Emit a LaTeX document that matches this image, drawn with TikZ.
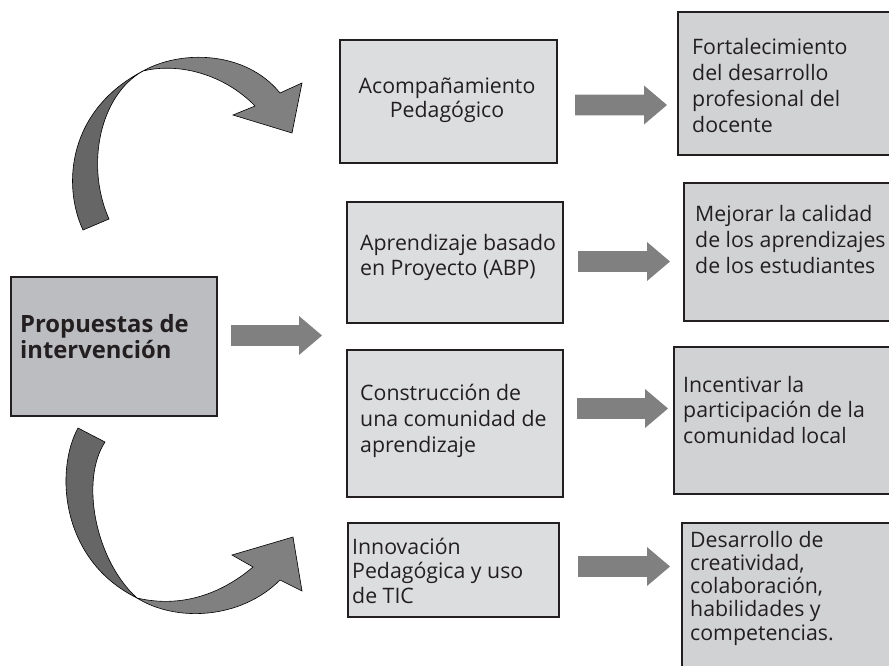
\documentclass[tikz,border=0pt]{standalone}
\usepackage{fontspec}
\setmainfont{Open Sans}
\usetikzlibrary{calc}
\definecolor{ink}{HTML}{231F20}
\definecolor{mainfill}{HTML}{BCBDC0}
\definecolor{leftfill}{HTML}{DCDDDF}
\definecolor{rightfill}{HTML}{D1D2D4}
\definecolor{arrowgray}{HTML}{808080}
\definecolor{ribbondark}{HTML}{666666}
\newcommand\linestext[4][21.3]{\parbox[t]{260pt}{#3\fontsize{#1}{#2}\selectfont #4}}
\newcommand\blockarrow[2]{\fill[arrowgray] let \p1=(#1),\p2=(#2) in
  (\x1,\y1+10.3pt) -- (\x2-23pt,\y1+10.3pt) -- (\x2-23pt,\y1+19.5pt) -- (\x2,\y1)
  -- (\x2-23pt,\y1-19.5pt) -- (\x2-23pt,\y1-10.3pt) -- (\x1,\y1-10.3pt) -- cycle;}
\tikzset{
  boxstyle/.style={draw=ink, line width=1.6pt, inner sep=0pt, anchor=north west},
  txt/.style={inner sep=0pt, text=ink, anchor=base west},
  ribbon/.style={draw=black, line width=0.6pt, line join=miter},
}
\begin{document}
\begin{tikzpicture}[x=1pt,y=-1pt]
\useasboundingbox (0,0) rectangle (889,665);
\clip (0,0) rectangle (889,665);
% main box
\node[boxstyle, fill=mainfill, minimum width=206pt, minimum height=139pt] (P) at (10,276) {};
\node[txt] (tP) at (20,332) {\linestext[23.8]{26.5}{\raggedright\bfseries}{Propuestas de\\intervención}};
% left column
\node[boxstyle, fill=leftfill, minimum width=217pt, minimum height=123pt] (A) at (339,39) {};
\node[boxstyle, fill=leftfill, minimum width=216pt, minimum height=121pt] (B) at (346,201) {};
\node[boxstyle, fill=leftfill, minimum width=216pt, minimum height=147pt] (C) at (346,349) {};
\node[boxstyle, fill=leftfill, minimum width=211pt, minimum height=94pt] (D) at (347,522) {};
% right column
\node[boxstyle, fill=rightfill, minimum width=230pt, minimum height=143pt] (F) at (677,11) {};
\node[boxstyle, fill=rightfill, minimum width=225pt, minimum height=138pt] (M) at (683,182) {};
\node[boxstyle, fill=rightfill, minimum width=235pt, minimum height=147pt] (I) at (673,346) {};
\node[boxstyle, fill=rightfill, minimum width=230pt, minimum height=180pt] (E) at (681,522) {};
% texts
\node[txt, anchor=base] (tA) at (447,93) {\linestext{24.5}{\centering}{Acompañamiento\\Pedagógico}};
\node[txt] (tB) at (360,250) {\linestext{25}{\raggedright}{Aprendizaje basado\\en Proyecto (ABP)}};
\node[txt] (tC) at (360,400) {\linestext{26}{\raggedright}{Construcción de\\una comunidad de\\aprendizaje}};
\node[txt] (tD) at (352,554) {\linestext{24.5}{\raggedright}{Innovación\\Pedagógica y uso\\de TIC}};
\node[txt] (tF) at (692,54) {\linestext{26}{\raggedright}{Fortalecimiento\\del desarrollo\\profesional del\\docente}};
\node[txt] (tM) at (695,221) {\linestext{26}{\raggedright}{Mejorar la calidad\\de los aprendizajes\\de los estudiantes}};
\node[txt] (tI) at (683,392) {\linestext{25.5}{\raggedright}{Incentivar la\\participación de la\\comunidad local}};
\node[txt] (tE) at (690,547) {\linestext{23.3}{\raggedright}{Desarrollo de\\creatividad,\\colaboración,\\habilidades y\\competencias.}};
% block arrows
\coordinate (p0) at (231,335.5); \coordinate (p1) at (322,335.5);
\coordinate (a0) at (575,105);   \coordinate (a1) at (667,105);
\coordinate (b0) at (578,261.5); \coordinate (b1) at (670,261.5);
\coordinate (c0) at (577,408.5); \coordinate (c1) at (668,408.5);
\coordinate (d0) at (578,566.5); \coordinate (d1) at (670,566.5);
\blockarrow{p0}{p1}
\blockarrow{a0}{a1}
\blockarrow{b0}{b1}
\blockarrow{c0}{c1}
\blockarrow{d0}{d1}
% top curved ribbon arrow
\filldraw[ribbon, fill=ribbondark] (83,230) .. controls (62,185) and (68,110) .. (143,71)
  .. controls (100,95) and (85,165) .. (109,219) -- cycle;
\filldraw[ribbon, fill=arrowgray] (143,71) .. controls (180,50) and (245,50) .. (280,93)
  -- (302,83) -- (292,133) -- (233,115) -- (255,106)
  .. controls (225,75) and (180,62) .. (143,71) -- cycle;
% bottom curved ribbon arrow
\filldraw[ribbon, fill=ribbondark] (78,428) .. controls (55,470) and (60,560) .. (137,598)
  .. controls (95,560) and (80,480) .. (105,442) -- cycle;
\filldraw[ribbon, fill=arrowgray] (137,598) .. controls (175,622) and (240,620) .. (280,580)
  -- (302,591) -- (293,537) -- (232,555) -- (253,567)
  .. controls (220,595) and (180,608) .. (137,598) -- cycle;
\end{tikzpicture}
\end{document}
